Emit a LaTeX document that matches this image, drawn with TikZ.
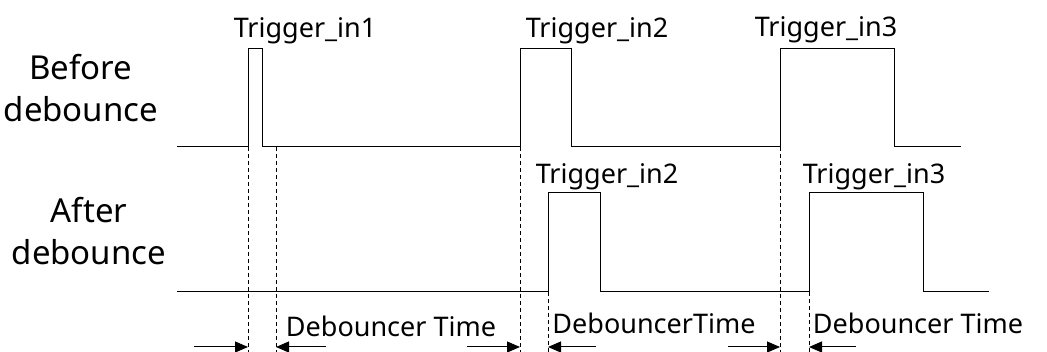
\documentclass[tikz,border=0pt]{standalone}
\usepackage{fontspec}
\setmainfont{Noto Sans}
\usetikzlibrary{arrows.meta}
\tikzset{
  wave/.style={line width=1pt, line join=miter},
  guide/.style={line width=0.8pt, dash pattern=on 4pt off 3pt},
  span/.style={line width=1pt, -{Triangle[length=13pt,width=11pt]}},
  lbl/.style={font=\fontsize{27}{30}\selectfont, inner sep=0pt, anchor=base},
  side/.style={font=\fontsize{33}{42}\selectfont, inner sep=0pt, align=center, anchor=base},
}
\begin{document}
\begin{tikzpicture}[x=1pt, y=-1pt]
    \useasboundingbox (0,0) rectangle (1047,352);

    % Edges of the input signal
    \coordinate (in1r) at (248,147);
    \coordinate (in1f) at (262,147);
    \coordinate (in2r) at (520,147);
    \coordinate (in2f) at (571,147);
    \coordinate (in3r) at (780,147);
    \coordinate (in3f) at (894,147);
    % Edges of the debounced signal
    \coordinate (out2r) at (548,292);
    \coordinate (out2f) at (600,292);
    \coordinate (out3r) at (809,292);
    \coordinate (out3f) at (923,292);
    \coordinate (bot) at (0,352);

    % Before debounce
    \draw[wave] (177,147) -- (in1r) -- ++(0,-98) -| (in1f) -- (in2r)
        -- ++(0,-98) -| (in2f) -- (in3r) -- ++(0,-98) -| (in3f) -- (961,147);
    % After debounce
    \draw[wave] (177,292) -- (out2r) -- ++(0,-99) -| (out2f) -- (out3r)
        -- ++(0,-99) -| (out3f) -- (989,292);

    % Guides
    \draw[guide] (in1r) -- (in1r |- bot);
    \draw[guide] (276,147) coordinate (hold1) -- (hold1 |- bot);
    \draw[guide] (in2r) -- (in2r |- bot);
    \draw[guide] (out2r) -- (out2r |- bot);
    \draw[guide] (in3r) -- (in3r |- bot);
    \draw[guide] (out3r) -- (out3r |- bot);

    % Debouncer time arrows
    \coordinate (t0) at (194,347);
    \coordinate (t1) at (326,347);
    \coordinate (t2) at (467,347);
    \coordinate (t3) at (596,347);
    \coordinate (t4) at (728,347);
    \coordinate (t5) at (856,347);
    \draw[span] (t0) -- (t0 -| in1r);
    \draw[span] (t1) -- (t1 -| hold1);
    \draw[span] (t2) -- (t2 -| in2r);
    \draw[span] (t3) -- (t3 -| out2r);
    \draw[span] (t4) -- (t4 -| in3r);
    \draw[span] (t5) -- (t5 -| out3r);

    % Labels
    \node[side] (before) at (81,122) {Before\\debounce};
    \node[side] (after) at (89,265) {After\\debounce};
    \node[lbl] (lin1) at (305,38) {Trigger\_in1};
    \node[lbl] (lin2) at (597,38) {Trigger\_in2};
    \node[lbl] (lin3) at (826,37) {Trigger\_in3};
    \node[lbl] (lout2) at (607,184) {Trigger\_in2};
    \node[lbl] (lout3) at (874,184) {Trigger\_in3};
    \node[lbl] (db1) at (391,337) {Debouncer Time};
    \node[lbl] (db2) at (654,334) {DebouncerTime};
    \node[lbl] (db3) at (918,334) {Debouncer Time};
\end{tikzpicture}
\end{document}
